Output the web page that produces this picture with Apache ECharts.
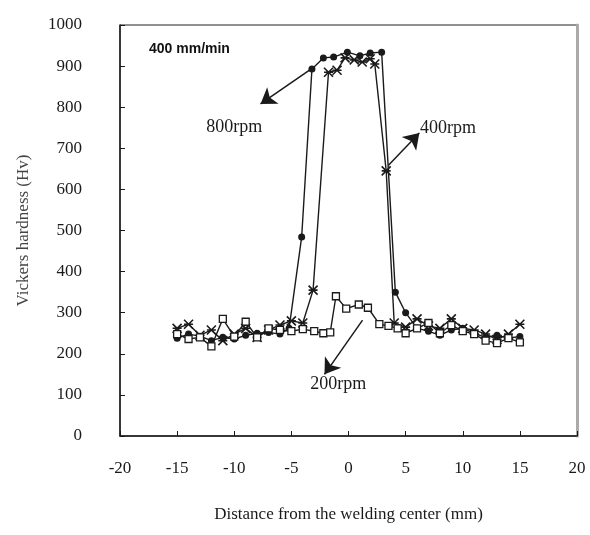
<!DOCTYPE html>
<html>
<head>
<meta charset="utf-8">
<script src="https://cdn.jsdelivr.net/npm/echarts@6/dist/echarts.min.js"></script>
<style>
  html, body { margin: 0; padding: 0; background: #fff; }
  #chart { width: 590px; height: 535px; }
</style>
</head>
<body>
<div id="chart"></div>
<script>
// Hardness profiles across the weld, traverse speed 400 mm/min
const xTicks = [-20, -15, -10, -5, 0, 5, 10, 15, 20];
const yTicks = [0, 100, 200, 300, 400, 500, 600, 700, 800, 900, 1000];

const x800 = [-15, -14, -13, -12, -11, -10, -9, -8, -7, -6, -5.2, -4.1, -3.2, -2.2, -1.3, -0.1, 1.0, 1.9, 2.9, 4.1, 5.0, 6, 7, 8, 9, 10, 11, 12, 13, 14, 15];
const hv800 = [238, 248, 243, 232, 240, 236, 245, 250, 252, 248, 262, 484, 893, 920, 922, 934, 925, 932, 934, 350, 300, 262, 255, 245, 258, 262, 250, 240, 245, 238, 242];

const x400 = [-15, -14, -13, -12, -11, -10, -9, -8, -7, -6, -5, -4.0, -3.1, -1.75, -1.0, -0.3, 0.5, 1.2, 1.9, 2.3, 3.3, 4.0, 5, 6, 7, 8, 9, 10, 11, 12, 13, 14, 15];
const hv400 = [262, 272, 245, 258, 232, 248, 262, 240, 258, 270, 280, 275, 355, 885, 890, 920, 915, 910, 918, 905, 645, 275, 265, 285, 268, 262, 285, 262, 258, 248, 235, 248, 272];

const x200 = [-15, -14, -13, -12, -11, -10, -9, -8, -7, -6, -5, -4, -3, -2.2, -1.6, -1.1, -0.2, 0.9, 1.7, 2.7, 3.5, 4.3, 5, 6, 7, 8, 9, 10, 11, 12, 13, 14, 15];
const hv200 = [248, 236, 240, 218, 285, 242, 278, 240, 262, 258, 255, 260, 255, 250, 252, 340, 310, 320, 312, 272, 268, 262, 250, 262, 275, 250, 270, 255, 248, 232, 226, 238, 228];

const seriesNames = ['800rpm', '400rpm', '200rpm'];
// label anchor and arrow (tail -> head) for each speed, in data units
const labelPos = [[-10.0, 752], [8.7, 749], [-0.9, 127]];
const arrows = [
  [[-3.16, 895], [-7.7, 808]],
  [[3.5, 659], [6.2, 737]],
  [[1.23, 282], [-2.1, 150]]
];

const serif = '"Liberation Serif", "DejaVu Serif", serif';
const ink = '#1a1a1a';

function pairs(xs, ys) { return xs.map((x, i) => [x, ys[i]]); }

function annotate(idx) {
  return {
    markLine: {
      silent: true,
      symbol: ['none', 'arrow'],
      symbolSize: 15,
      lineStyle: { color: ink, width: 1.5, type: 'solid' },
      itemStyle: { color: ink },
      label: { show: false },
      data: [[{ coord: arrows[idx][0] }, { coord: arrows[idx][1] }]]
    },
    markPoint: {
      silent: true,
      symbol: 'circle',
      symbolSize: 0,
      label: {
        show: true,
        formatter: seriesNames[idx],
        fontFamily: serif,
        fontSize: 18,
        color: ink
      },
      data: [{ coord: labelPos[idx] }]
    }
  };
}

const chart = echarts.init(document.getElementById('chart'), null, { renderer: 'canvas' });

chart.setOption({
  backgroundColor: '#fff',
  animation: false,
  title: {
    text: '400 mm/min',
    left: 144,
    top: 37,
    textStyle: { fontFamily: 'Arial, "Liberation Sans", sans-serif', fontWeight: 'bold', fontSize: 14, color: '#111' }
  },
  grid: {
    left: 120, right: 13, top: 25, bottom: 99,
    show: true, borderColor: '#222', borderWidth: 1
  },
  xAxis: {
    type: 'value',
    min: xTicks[0], max: xTicks[xTicks.length - 1], interval: 5,
    name: 'Distance from the welding center (mm)',
    nameLocation: 'middle',
    nameGap: 70,
    nameTextStyle: { fontFamily: serif, fontSize: 17, color: ink },
    axisLine: { show: true, onZero: false, lineStyle: { color: ink, width: 1.5 } },
    axisTick: { show: true, inside: true, length: 5, lineStyle: { color: ink } },
    axisLabel: { fontFamily: serif, fontSize: 17, color: ink, margin: 24 },
    splitLine: { show: false }
  },
  yAxis: [{
    type: 'value',
    min: yTicks[0], max: yTicks[yTicks.length - 1], interval: 100,
    name: 'Vickers hardness (Hv)',
    nameLocation: 'middle',
    nameGap: 88,
    nameTextStyle: { fontFamily: serif, fontSize: 17, color: '#444' },
    axisLine: { show: true, onZero: false, lineStyle: { color: ink, width: 1.5 } },
    axisTick: { show: true, inside: true, length: 5, lineStyle: { color: ink } },
    axisLabel: { fontFamily: serif, fontSize: 17, color: ink, margin: 38, formatter: v => String(v) },
    splitLine: { show: false }
  }, {
    type: 'value', position: 'right',
    min: yTicks[0], max: yTicks[yTicks.length - 1],
    axisLine: { show: true, onZero: false, lineStyle: { color: '#aaa', width: 3 } },
    axisTick: { show: false }, axisLabel: { show: false }, splitLine: { show: false }
  }],
  series: [
    Object.assign({
      name: seriesNames[0], type: 'line',
      data: pairs(x800, hv800),
      symbol: 'circle', symbolSize: 7,
      itemStyle: { color: ink },
      lineStyle: { color: ink, width: 1.4 }
    }, annotate(0)),
    Object.assign({
      name: seriesNames[1], type: 'line',
      data: pairs(x400, hv400),
      symbol: 'path://M0,0L10,10M10,0L0,10M0,5L10,5',
      symbolSize: 9,
      itemStyle: { color: 'none', borderColor: ink, borderWidth: 1.6 },
      lineStyle: { color: ink, width: 1.4 }
    }, annotate(1)),
    Object.assign({
      name: seriesNames[2], type: 'line',
      data: pairs(x200, hv200),
      symbol: 'rect', symbolSize: 7,
      itemStyle: { color: '#fff', borderColor: ink, borderWidth: 1.3 },
      lineStyle: { color: ink, width: 1.4 }
    }, annotate(2))
  ]
});
</script>
</body>
</html>
